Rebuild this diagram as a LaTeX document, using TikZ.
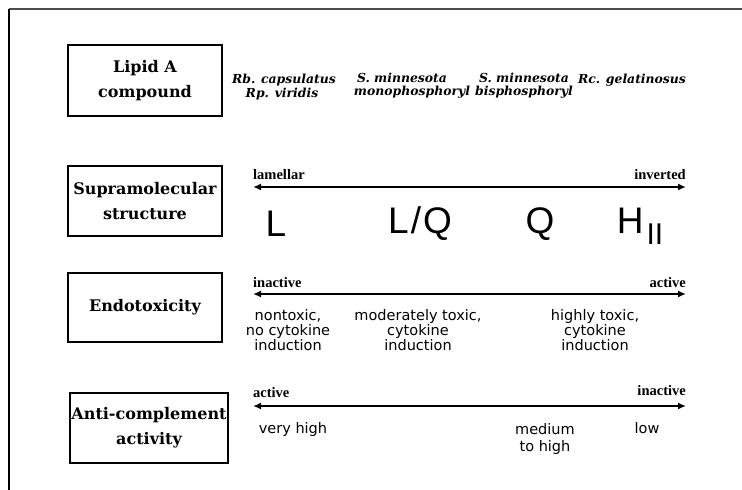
\documentclass[tikz,border=0pt]{standalone}
\usepackage{fontspec}
\usepackage{tikz}
\usetikzlibrary{arrows.meta}

\newfontfamily\boxfont{DejaVu Serif}
\newfontfamily\tagfont{Liberation Serif}
\newfontfamily\notefont{DejaVu Sans}
\newfontfamily\phasefont{Liberation Sans}

\begin{document}
\begin{tikzpicture}[x=1pt,y=-1pt,
    label_box/.style={draw,line width=1.2pt,inner sep=0pt,align=center,
        font=\boxfont\bfseries\fontsize{16}{25}\selectfont},
    species_text/.style={inner sep=0pt,font=\boxfont\bfseries\itshape\fontsize{12.4}{14}\selectfont},
    end_text/.style={inner sep=0pt,font=\tagfont\bfseries\fontsize{14.5}{15}\selectfont},
    note_text/.style={inner sep=0pt,align=center,font=\notefont\fontsize{14.5}{15}\selectfont},
    phase_text/.style={inner sep=0pt,font=\phasefont\fontsize{37}{40}\selectfont},
    scale_arrow/.style={line width=2.6pt,{Latex[length=8pt,width=7pt]}-{Latex[length=8pt,width=7pt]}}]

    \useasboundingbox (0,0) rectangle (742,490);

    % frame
    \coordinate (frame_corner) at (9,9);
    \coordinate (frame_right) at (742,9);
    \coordinate (frame_bottom) at (9,490);
    \draw[line width=2pt,black!70] (frame_corner) -- (frame_right);
    \draw[line width=1.5pt] (frame_corner) -- (frame_bottom);

    % row boxes
    \node[label_box,minimum width=154pt,minimum height=71pt] (lipid) at (145,80.5) {Lipid A\\compound};
    \node[label_box,minimum width=154pt,minimum height=70pt] (supra) at (145,201) {Supramolecular\\structure};
    \node[label_box,minimum width=154pt,minimum height=69pt] (endo) at (145,307.5) {Endotoxicity};
    \node[label_box,minimum width=158pt,minimum height=70pt] (anti) at (149,428) {Anti-complement\\activity};

    % compounds
    \node[species_text] (rb) at (284,80) {Rb. capsulatus};
    \node[species_text] (rp) at (282,94) {Rp. viridis};
    \node[species_text] (smono) at (402,78) {S. minnesota};
    \node[species_text] (mono) at (412,92) {monophosphoryl};
    \node[species_text] (sbis) at (524,78) {S. minnesota};
    \node[species_text] (bis) at (524,92) {bisphosphoryl};
    \node[species_text] (rc) at (632,80) {Rc. gelatinosus};

    % structure scale
    \node[end_text,anchor=west] (lamellar) at (253,175) {lamellar};
    \node[end_text,anchor=east] (inverted) at (686,175) {inverted};
    \coordinate (supra_left) at (253,187);
    \coordinate (supra_right) at (686,187);
    \draw[scale_arrow] (supra_left) -- (supra_right);
    \node[phase_text] (ph_l) at (276,224) {L};
    \node[phase_text] (ph_lq) at (420,224) {L\kern2pt/\kern2pt Q};
    \node[phase_text] (ph_q) at (540,224) {Q};
    \node[phase_text] (ph_h) at (640,226) {H\kern3pt\raisebox{-0.3em}{\fontsize{30}{30}\selectfont II}};

    % endotoxicity scale
    \node[end_text,anchor=west] (inactive) at (253,283) {inactive};
    \node[end_text,anchor=east] (active) at (686,283) {active};
    \coordinate (endo_left) at (253,294);
    \coordinate (endo_right) at (686,294);
    \draw[scale_arrow] (endo_left) -- (endo_right);
    \node[note_text] (nontoxic) at (288,330) {nontoxic,\\no cytokine\\induction};
    \node[note_text] (moderate) at (418,330) {moderately toxic,\\cytokine\\induction};
    \node[note_text] (highly) at (595,330) {highly toxic,\\cytokine\\induction};

    % anti-complement scale
    \node[end_text,anchor=west] (ac_active) at (253,393) {active};
    \node[end_text,anchor=east] (ac_inactive) at (686,391) {inactive};
    \coordinate (anti_left) at (253,406);
    \coordinate (anti_right) at (686,406);
    \draw[scale_arrow] (anti_left) -- (anti_right);
    \node[note_text] (veryhigh) at (293,429) {very high};
    \node[note_text] (medium) at (545,429) {medium};
    \node[note_text] (tohigh) at (545,447) {to high};
    \node[note_text] (low) at (647,428) {low};
    \end{tikzpicture}
\end{document}
